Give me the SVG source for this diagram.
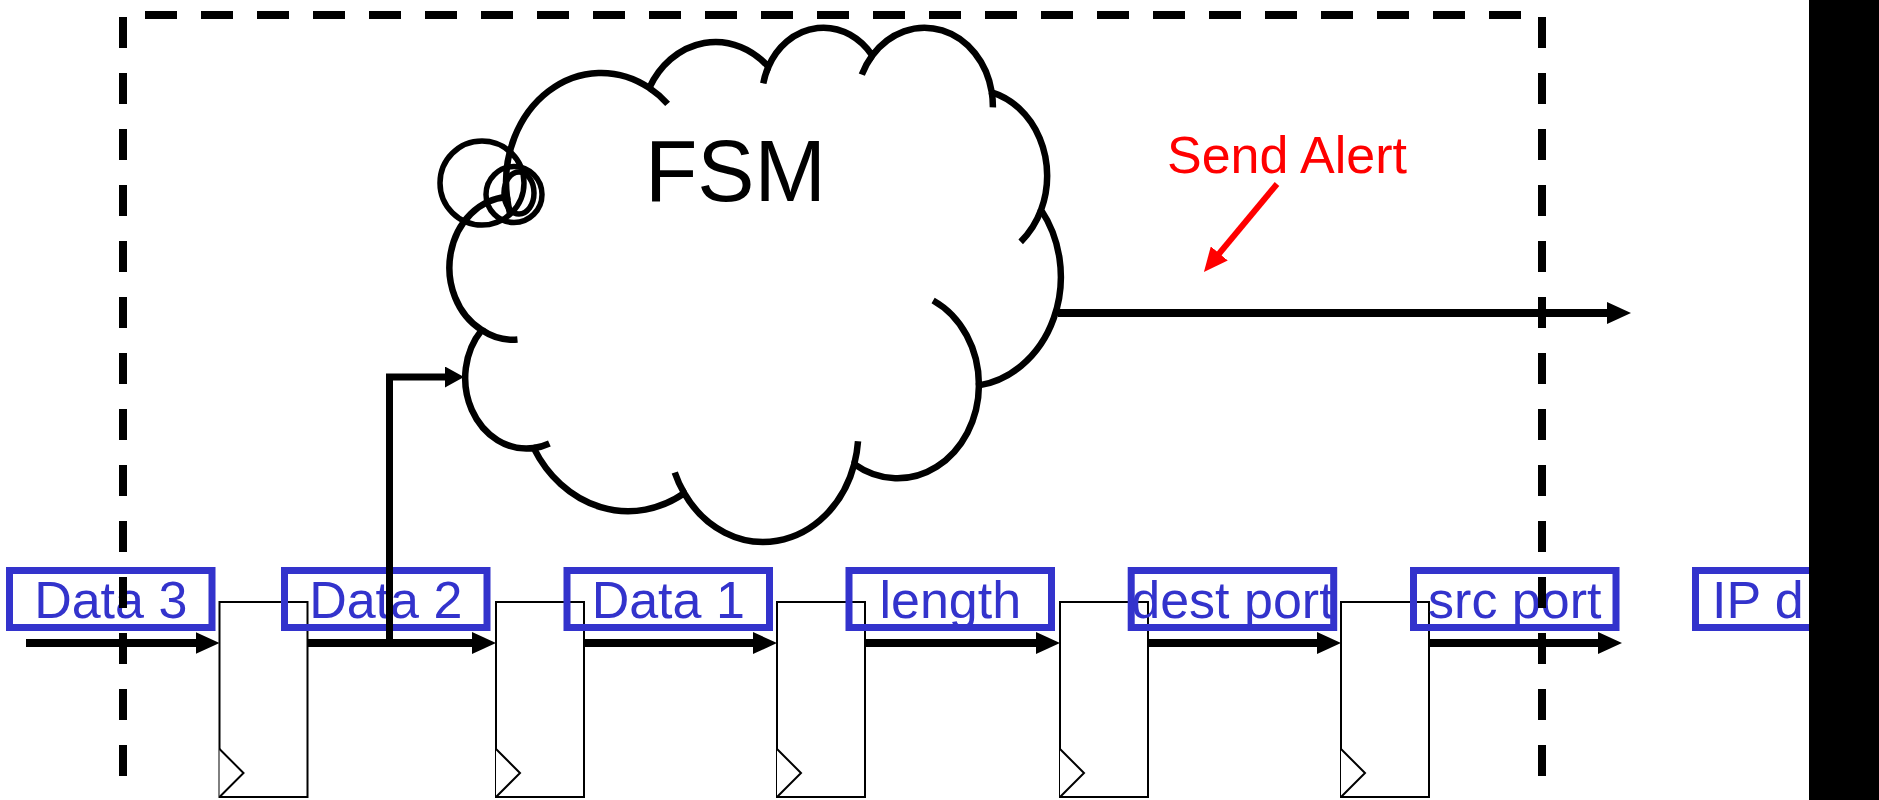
<svg xmlns="http://www.w3.org/2000/svg" width="1879" height="800" viewBox="0 0 1879 800">
<style>
.dash{fill:none;stroke:#000;stroke-width:8}
.box{fill:none;stroke:#3333CC;stroke-width:7}
.lbl{font-family:"Liberation Sans",Arial,sans-serif;font-size:52px;fill:#3333CC;text-anchor:middle}
.ff{fill:#fff;stroke:#000;stroke-width:2}
.wire{fill:none;stroke:#000;stroke-width:8}
.cl{stroke:#000;stroke-width:6.5;vector-effect:non-scaling-stroke;stroke-linejoin:miter}
.bub{fill:none;stroke:#000;stroke-width:5.5}
</style>
<defs>
<marker id="ah" markerUnits="userSpaceOnUse" markerWidth="24" markerHeight="22" viewBox="0 0 24 22" refX="2" refY="11" orient="auto"><path d="M0,0 L24,11 L0,22 z" fill="#000"/></marker>
<marker id="ah2" markerUnits="userSpaceOnUse" markerWidth="19" markerHeight="21" viewBox="0 0 19 21" refX="2" refY="10.5" orient="auto"><path d="M0,0 L19,10.5 L0,21 z" fill="#000"/></marker>
<marker id="ahr" markerUnits="userSpaceOnUse" markerWidth="24" markerHeight="22" viewBox="0 0 24 22" refX="2" refY="11" orient="auto"><path d="M0,0 L24,11 L0,22 z" fill="#FF0000"/></marker>
</defs>
<rect width="1879" height="800" fill="#fff"/>

<g id="fsm">
  <g transform="translate(452,26) scale(0.014087,0.011900)">
    <path class="cl" fill="#fff" d="M3900,14370 A6753,9190 0 0 1 14005.2,5202 A5333,7267 0 0 1 22456,3431.6 A4365,5945 0 0 1 29833.2,2480.7 A4857,6595 0 0 1 38318.4,5575.9 A5333,7273 0 0 1 41818.6,15459.6 A6775,9220 0 0 1 37404.6,30203 A5785,7867 0 0 1 28556.3,36813.2 A6752,9215 0 0 1 16480.7,39264 A7720,10543 0 0 1 5805.1,35469.8 A4360,5918 0 0 1 2113.6,25548.1 A4345,5945 0 0 1 3900,14370 Z"/>
    <path class="cl" fill="none" d="M4646.9,26344.9 A4345,5945 0 0 1 2113.6,25548.1 M6913.3,35088.4 A4360,5918 0 0 1 5805.1,35469.8 M16480.7,39264 A6752,9215 0 0 1 15812.7,37523.6 M28822.9,34904 A6752,9215 0 0 1 28556.3,36813.2 M34152.8,23067.2 A5785,7867 0 0 1 37404.6,30203 M41818.6,15459.6 A5333,7273 0 0 1 40370.9,18135.4 M38318.4,5575.9 A4857,6595 0 0 1 38394.8,6839.6 M29091.5,4092.9 A4857,6595 0 0 1 29833.2,2480.7 M22096.8,4821.5 A4365,5945 0 0 1 22456,3431.6 M14005.2,5202 A6753,9190 0 0 1 15305.2,6550.8 M4126.9,15788.8 A6753,9190 0 0 1 3900,14370"/>
  </g>
  <circle class="bub" cx="482" cy="183" r="42"/>
  <circle class="bub" cx="514" cy="194.5" r="28"/>
  <ellipse class="bub" cx="519" cy="193" rx="15" ry="21"/>
  <text x="645" y="201" font-family="Liberation Sans, Arial, sans-serif" font-size="88" textLength="181" lengthAdjust="spacingAndGlyphs" fill="#000">FSM</text>
</g>

<g id="flipflops">
  <g id="ff1"><rect class="ff" x="219.5" y="602" width="88" height="195"/><polyline class="ff" fill="none" points="219.5,749 243.5,773 219.5,797"/></g>
  <g id="ff2"><rect class="ff" x="496" y="602" width="88" height="195"/><polyline class="ff" fill="none" points="496,749 520,773 496,797"/></g>
  <g id="ff3"><rect class="ff" x="777" y="602" width="88" height="195"/><polyline class="ff" fill="none" points="777,749 801,773 777,797"/></g>
  <g id="ff4"><rect class="ff" x="1060" y="602" width="88" height="195"/><polyline class="ff" fill="none" points="1060,749 1084,773 1060,797"/></g>
  <g id="ff5"><rect class="ff" x="1341" y="602" width="88" height="195"/><polyline class="ff" fill="none" points="1341,749 1365,773 1341,797"/></g>
</g>

<g id="fields">
  <g id="f-data3"><rect class="box" x="9.5" y="570.5" width="202.5" height="57"/><text class="lbl" x="110.75" y="618">Data 3</text></g>
  <g id="f-data2"><rect class="box" x="284.5" y="570.5" width="202.5" height="57"/><text class="lbl" x="385.75" y="618">Data 2</text></g>
  <g id="f-data1"><rect class="box" x="567" y="570.5" width="202.5" height="57"/><text class="lbl" x="668.25" y="618">Data 1</text></g>
  <g id="f-length"><rect class="box" x="849" y="570.5" width="202.5" height="57"/><text class="lbl" x="950.25" y="618">length</text></g>
  <g id="f-dest"><rect class="box" x="1131.2" y="570.5" width="202.5" height="57"/><text class="lbl" x="1232.45" y="618">dest port</text></g>
  <g id="f-src"><rect class="box" x="1413.5" y="570.5" width="202.5" height="57"/><text class="lbl" x="1514.75" y="618">src port</text></g>
  <g id="f-ip"><rect class="box" x="1695.5" y="570.5" width="202.5" height="57"/><text class="lbl" x="1712" y="618" style="text-anchor:start">IP d</text></g>
</g>

<g id="connectors">
  <line class="wire" x1="26" y1="643" x2="197.5" y2="643" marker-end="url(#ah)"/>
  <line class="wire" x1="307.5" y1="643" x2="474" y2="643" marker-end="url(#ah)"/>
  <line class="wire" x1="584" y1="643" x2="755" y2="643" marker-end="url(#ah)"/>
  <line class="wire" x1="865" y1="643" x2="1038" y2="643" marker-end="url(#ah)"/>
  <line class="wire" x1="1148" y1="643" x2="1319" y2="643" marker-end="url(#ah)"/>
  <line class="wire" x1="1429" y1="643" x2="1600" y2="643" marker-end="url(#ah)"/>
  <path d="M389.5,647 V377 H447" fill="none" stroke="#000" stroke-width="7" stroke-linejoin="miter" marker-end="url(#ah2)"/>
  <line class="wire" x1="1058" y1="313" x2="1609" y2="313" marker-end="url(#ah)"/>
  <line x1="1277" y1="184" x2="1218" y2="255" stroke="#FF0000" stroke-width="6" marker-end="url(#ahr)"/>
</g>

<g id="alert-label">
  <text x="1167" y="173" font-family="Liberation Sans, Arial, sans-serif" font-size="52" fill="#FF0000">Send Alert</text>
</g>

<g id="boundary">
  <line class="dash" x1="145" y1="15" x2="1521" y2="15" stroke-dasharray="32 24"/>
  <line class="dash" x1="123" y1="17" x2="123" y2="800" stroke-dasharray="31 25"/>
  <line class="dash" x1="1542" y1="17" x2="1542" y2="800" stroke-dasharray="31 25"/>
</g>

<rect id="mask" x="1809" y="0" width="70" height="800" fill="#000"/>
</svg>
